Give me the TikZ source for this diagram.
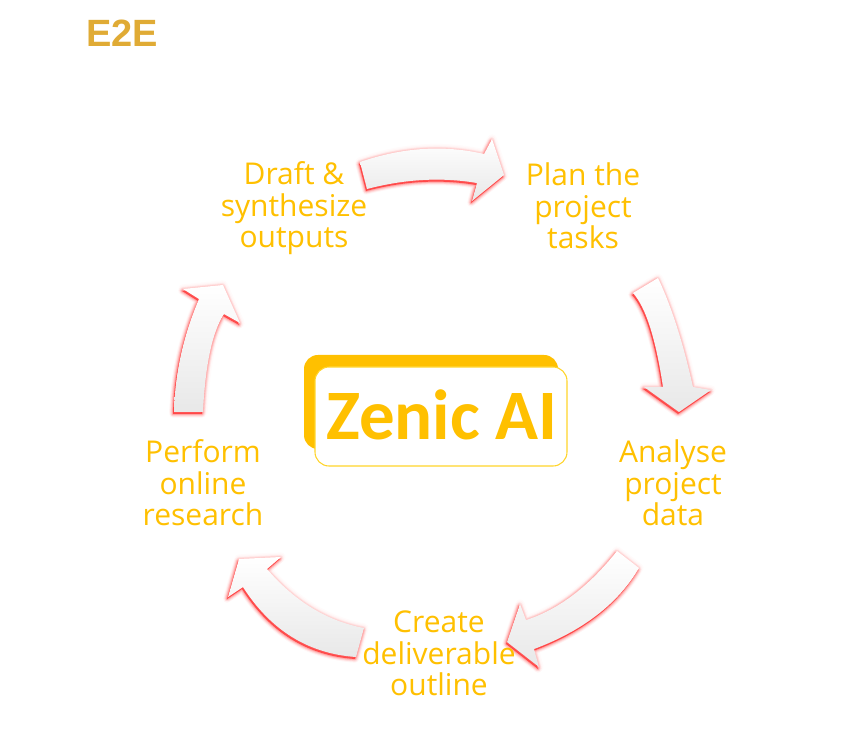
\documentclass[tikz,border=0pt]{standalone}
\usepackage{fontspec}
\setmainfont{Open Sans}
\newfontfamily\boxfont{Carlito}
\newfontfamily\titlefont{Liberation Sans}
\definecolor{amberA}{HTML}{FFC000}
\definecolor{amberB}{HTML}{FFD42A}
\definecolor{goldA}{HTML}{E0AB35}
\definecolor{glowred}{HTML}{FF0000}
\definecolor{shadeend}{HTML}{E8E8E8}
\newcommand{\blockarrow}[1]{%
  \foreach \w/\o in {7/.015,5/.02,3.4/.03,2/.035}{%
    \draw[glowred,opacity=\o,line width=\w pt,line join=round] #1;}%
  \foreach \w/\o in {5.5/.04,4/.07,2.6/.10,1.4/.14}{%
    \draw[glowred,opacity=\o,line width=\w pt,line join=round,shift={(-1,2)}] #1;}%
  \fill[glowred,opacity=.55,shift={(-1,2)}] #1;%
  \shade[top color=white,middle color=white,bottom color=shadeend] #1;%
}
\tikzset{
  cyclelabel/.style={font=\fontsize{22.5}{23.6}\selectfont,text=amberA,align=center,inner sep=0pt},
  backbox/.style={fill=amberA,rounded corners=10.5pt,draw=none},
  frontbox/.style={fill=white,draw=amberB,line width=0.8pt,rounded corners=10.5pt},
}
\begin{document}
\begin{tikzpicture}[x=0.75pt,y=-0.75pt]
\useasboundingbox (0,0) rectangle (868,730);
\fill[white] (0,0) rectangle (868,730);
\blockarrow{(360,162) .. controls (402.7,147.3) and (444,144.7) .. (484,154) -- (492,139) -- (504,175) -- (472,201) -- (477,183) .. controls (441.7,177) and (405,179) .. (367,189) -- cycle}
\blockarrow{(658,278) .. controls (671.7,307) and (683.3,343.3) .. (693,387) -- (711,390) -- (679,412) -- (644,387) -- (663,387) .. controls (655.7,338.3) and (645.7,307) .. (633,293) -- cycle}
\blockarrow{(639,568) .. controls (618,603.7) and (583,630.7) .. (534,649) -- (539,667) -- (507,642) -- (520,604) -- (526,620) .. controls (558.3,609.7) and (588.7,586.7) .. (617,551) -- cycle}
\blockarrow{(356,657) .. controls (308.3,653.7) and (270.7,630.3) .. (243,587) -- (228,597) -- (239,559) -- (281,557) -- (267,569) .. controls (294.7,601.3) and (327,621) .. (364,628) -- cycle}
\blockarrow{(203,412) .. controls (205.3,364.7) and (212.3,332) .. (224,314) -- (240,323) -- (223,285) -- (183,289) -- (199,299) .. controls (184.7,332) and (175,370.3) .. (174,412) -- cycle}
\path[backbox] (304,355) rectangle (558,449);
\node[frontbox,minimum width=189pt,minimum height=74.25pt,inner sep=0pt] (core) at (441,416.5) {};
\node[font=\boxfont\bfseries\fontsize{53.2}{53.2}\selectfont,text=amberA,inner sep=0pt] (corelabel) at (442,414.5) {Zenic AI};
\node[font=\titlefont\bfseries\fontsize{28.5}{28.5}\selectfont,text=goldA,inner sep=0pt,anchor=base west] (title) at (86,46.5) {E2E};
\node[cyclelabel] (draft) at (294,208.5) {Draft \&\\synthesize\\outputs};
\node[cyclelabel] (plan) at (583,206) {Plan the\\project\\tasks};
\node[cyclelabel] (analyse) at (673,483) {Analyse\\project\\data};
\node[cyclelabel] (create) at (439,653.5) {Create\\deliverable\\outline};
\node[cyclelabel] (perform) at (203,483) {Perform\\online\\research};
\end{tikzpicture}
\end{document}
